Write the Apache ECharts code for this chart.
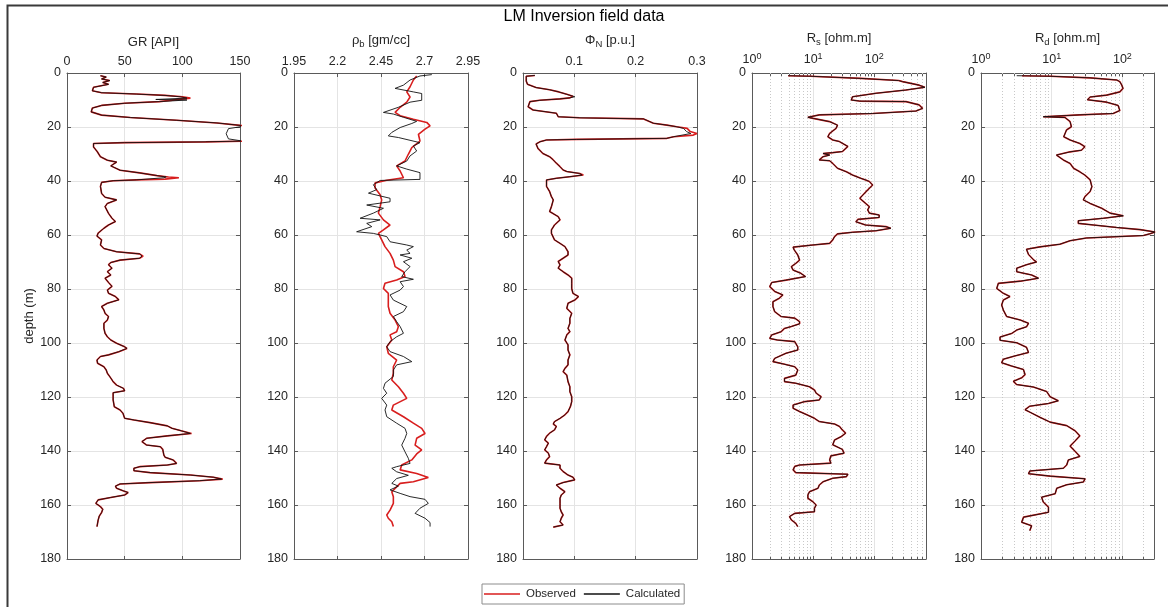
<!DOCTYPE html>
<html><head><meta charset="utf-8">
<script src="https://cdn.jsdelivr.net/npm/echarts@6/dist/echarts.min.js"></script>
<style>html,body{margin:0;padding:0;background:#fff}#c{width:1168px;height:607px}</style>
</head><body><div id="c"></div>
<script>
// ---------- tick labels ----------
const depthTicks = [0, 20, 40, 60, 80, 100, 120, 140, 160, 180];
const grTicks = [0, 50, 100, 150];
const rhoTicks = [1.95, 2.2, 2.45, 2.7, 2.95];
const phiTicks = [0.1, 0.2, 0.3];
const resTicks = [1, 10, 100];
const rsMinor = [2,3,4,5,6,7,8,9,20,30,40,50,60,70,80,90,200,300,400,500,600];
const rdMinor = [2,3,4,5,6,7,8,9,20,30,40,50,60,70,80,90,200];
const legendNames = ['Observed', 'Calculated'];

// ---------- data: [depth (m), value] ----------
const grObserved = [[1,29],[1.5,34],[2.2,30],[2.8,37],[3.5,31],[4.2,36],[5.3,23],[6.6,22],[7.3,30],[7.8,60],[8.3,85],[8.8,100],[9.3,107],[10,106],[10.6,80],[11.2,50],[12,30],[13,22],[14.4,21],[15,21],[15.6,30],[16.5,55],[17.5,95],[18.5,130],[19.4,150],[19.8,160],[25.2,160],[25.5,120],[25.8,50],[26.1,23],[27.4,23],[29,26],[31,29],[32.3,35],[33,43],[34.4,38],[36,46],[37,63],[38,78],[38.5,88],[38.8,97],[39.3,85],[39.6,60],[39.9,40],[40.5,30],[42,29],[44.6,30],[46,33],[47,43],[48.3,35],[49.5,33],[52,36],[53.8,39],[55,42],[56.3,36],[57.5,32],[59.3,27],[60.4,26],[61.8,30],[63.7,29],[65,32],[66.2,43],[67,63],[67.8,66],[68.6,63],[69.3,46],[70.2,38],[71,36],[72.3,39],[73.6,35],[74.8,38],[76,33],[77.6,36],[79,39],[80.4,35],[81.6,36],[82.8,42],[84,45],[85.3,35],[86.5,30],[87.8,32],[89,33],[90.2,36],[91.5,35],[92.7,32],[94.6,32],[96.4,33],[97.7,35],[98.9,38],[100.1,43],[101.4,50],[102,52],[103.2,45],[104.4,36],[105,29],[106.3,26],[107.5,26.5],[108.8,32],[110,34],[111.2,35],[113,38],[114.3,40],[115.6,43],[116.8,49],[117.7,50],[118.4,40],[119.9,40],[121.1,40],[123.6,41],[124.8,46],[126,48.5],[127.9,50],[128.5,58],[129.5,72],[130.7,87],[131.6,91],[132.5,99],[133.5,108],[134.4,87],[135.3,69],[136.5,65],[137.8,69],[138.4,81],[139.4,83],[141.5,84],[142.3,85],[143.3,92],[144.6,95],[145.2,87],[145.8,63],[146.4,58],[147.3,58],[148,72],[148.9,107],[149.7,127],[150.4,135],[151,115],[151.7,72],[152.2,46],[153,42],[153.8,43],[154.7,48.5],[155.4,53],[156.3,50],[157.2,38],[158.1,27],[159.4,25],[160.6,29],[161.6,31],[162.8,30],[164.1,28],[165.6,27],[168,26]];
const grCalculated = [[1,29],[1.5,34],[2.2,30],[2.8,37],[3.5,31],[4.2,36],[5.3,23],[6.6,22],[7.3,30],[7.8,60],[8.3,85],[8.8,98],[9.3,104],[9.8,77],[10,104],[10.6,80],[11.2,50],[12,30],[13,22],[14.4,21],[15,21],[15.6,30],[16.5,55],[17.5,95],[18.5,130],[19.4,150],[19.8,152],[20.6,140],[22.5,138],[24.4,140],[25.2,152],[25.5,120],[25.8,50],[26.1,23],[27.4,23],[29,26],[31,29],[32.3,35],[33,43],[34.4,38],[36,46],[37,63],[38,78],[38.5,86],[38.8,84],[39.3,85],[39.6,60],[39.9,40],[40.5,30],[42,29],[44.6,30],[46,33],[47,43],[48.3,35],[49.5,33],[52,36],[53.8,39],[55,42],[56.3,36],[57.5,32],[59.3,27],[60.4,26],[61.8,30],[63.7,29],[65,32],[66.2,43],[67,63],[67.8,65],[68.6,63],[69.3,46],[70.2,38],[71,36],[72.3,39],[73.6,35],[74.8,38],[76,33],[77.6,36],[79,39],[80.4,35],[81.6,36],[82.8,42],[84,45],[85.3,35],[86.5,30],[87.8,32],[89,33],[90.2,36],[91.5,35],[92.7,32],[94.6,32],[96.4,33],[97.7,35],[98.9,38],[100.1,43],[101.4,50],[102,52],[103.2,45],[104.4,36],[105,29],[106.3,26],[107.5,26.5],[108.8,32],[110,34],[111.2,35],[113,38],[114.3,40],[115.6,43],[116.8,49],[117.7,50],[118.4,40],[119.9,40],[121.1,40],[123.6,41],[124.8,46],[126,48.5],[127.9,50],[128.5,58],[129.5,72],[130.7,87],[131.6,91],[132.5,99],[133.5,107],[134.4,87],[135.3,69],[136.5,65],[137.8,69],[138.4,81],[139.4,83],[141.5,84],[142.3,85],[143.3,92],[144.6,95],[145.2,87],[145.8,63],[146.4,58],[147.3,58],[148,72],[148.9,107],[149.7,127],[150.4,134],[151,115],[151.7,72],[152.2,46],[153,42],[153.8,43],[154.7,48.5],[155.4,53],[156.3,50],[157.2,38],[158.1,27],[159.4,25],[160.6,29],[161.6,31],[162.8,30],[164.1,28],[165.6,27],[168,26]];

const rhoObserved = [[1.1,2.655],[2.6,2.636],[5.1,2.617],[7,2.598],[8.9,2.617],[10.8,2.598],[12.7,2.56],[14.6,2.531],[15.8,2.56],[17.1,2.636],[18.3,2.713],[19.6,2.732],[20.8,2.703],[22.7,2.665],[25.2,2.674],[27.6,2.627],[30.1,2.607],[32.6,2.588],[34.4,2.54],[36.3,2.56],[38.8,2.579],[39.7,2.483],[40.7,2.416],[42.6,2.416],[45.1,2.445],[47,2.454],[49.5,2.445],[51.9,2.435],[54.4,2.464],[56.3,2.502],[58.1,2.464],[59.4,2.435],[61.8,2.454],[64.3,2.473],[66.8,2.502],[69.3,2.521],[71.7,2.531],[73.6,2.579],[75.4,2.588],[76.7,2.54],[77.9,2.473],[79.8,2.464],[81.6,2.492],[84.1,2.492],[86.5,2.492],[89,2.502],[91.5,2.531],[93.9,2.55],[95.8,2.54],[97,2.502],[98.9,2.512],[101.4,2.483],[103.8,2.492],[106.3,2.54],[108.8,2.521],[111.2,2.521],[113.7,2.512],[116.2,2.55],[118.6,2.579],[120.5,2.598],[121.1,2.588],[123,2.521],[124.8,2.512],[127.3,2.579],[129.7,2.636],[131.6,2.684],[133.5,2.703],[135.3,2.655],[137.8,2.646],[139.6,2.684],[141.1,2.655],[143.3,2.627],[145.2,2.569],[147,2.56],[148.3,2.655],[149.8,2.722],[151.4,2.636],[152,2.56],[153.3,2.54],[155.1,2.512],[156.9,2.521],[159.4,2.521],[161.9,2.502],[163.7,2.483],[164.9,2.492],[166.2,2.512],[168,2.521]];
const rhoCalculated = [[0.6,2.742],[1.1,2.674],[2.6,2.617],[4.5,2.579],[5.7,2.531],[7,2.636],[7.6,2.684],[10.1,2.684],[10.8,2.617],[12.7,2.55],[14.6,2.464],[15.2,2.521],[16.4,2.579],[17.9,2.655],[18.7,2.627],[20.2,2.56],[22,2.512],[23.3,2.492],[23.9,2.55],[25.8,2.674],[27,2.636],[28.9,2.655],[30.7,2.617],[32.6,2.598],[34.4,2.54],[35.6,2.598],[36.9,2.674],[39.4,2.674],[39.8,2.445],[41.4,2.406],[43.2,2.425],[44.5,2.378],[46.4,2.502],[47.7,2.502],[48.9,2.368],[50.1,2.464],[51.9,2.406],[53.8,2.33],[54.4,2.445],[55.7,2.368],[56.9,2.397],[58.8,2.31],[59.4,2.406],[60.6,2.483],[62.5,2.502],[63.7,2.598],[64.3,2.636],[65.6,2.598],[66.8,2.617],[67.4,2.56],[68.6,2.627],[69.9,2.579],[71.7,2.617],[73.6,2.588],[75.4,2.569],[76.4,2.636],[77.3,2.56],[79.1,2.579],[80.4,2.56],[82.2,2.502],[84.1,2.521],[86.5,2.598],[88.4,2.579],[90.2,2.521],[92.1,2.54],[93.9,2.56],[96.4,2.579],[97.7,2.54],[99.5,2.502],[101.4,2.483],[103.2,2.502],[105,2.579],[106.9,2.627],[108.1,2.54],[110,2.521],[112.4,2.521],[114.9,2.473],[116.8,2.464],[118.6,2.483],[120.5,2.454],[121.1,2.464],[123,2.483],[124.8,2.473],[127.3,2.483],[129.7,2.54],[131.6,2.588],[133.5,2.598],[135.3,2.588],[137.8,2.569],[140.3,2.588],[142.7,2.607],[144.6,2.617],[145.8,2.54],[146.4,2.512],[147.7,2.54],[149,2.607],[150.2,2.54],[152,2.512],[153,2.55],[154.4,2.502],[155.7,2.56],[156.9,2.617],[157.9,2.703],[159.4,2.722],[161.2,2.674],[163.1,2.646],[164.9,2.703],[166.5,2.732],[168,2.732]];

const phiObserved = [[0.9,0.036],[1.2,0.022],[2,0.022],[3,0.022],[4.2,0.024],[5.4,0.038],[6.2,0.06],[7,0.075],[7.9,0.088],[8.6,0.098],[9.2,0.093],[9.6,0.077],[10.1,0.044],[10.6,0.028],[12.5,0.025],[13.7,0.033],[14.9,0.071],[16.2,0.074],[16.6,0.109],[17,0.213],[18.6,0.229],[19.3,0.251],[19.9,0.267],[20.5,0.284],[21.7,0.289],[22.4,0.3],[23,0.294],[23.6,0.262],[24.2,0.251],[24.6,0.104],[24.8,0.055],[25.5,0.044],[26.3,0.038],[27.9,0.041],[29.8,0.049],[31,0.06],[32.2,0.066],[33.4,0.071],[34.7,0.077],[35.9,0.082],[36.5,0.088],[37.2,0.109],[37.8,0.115],[38.4,0.093],[39,0.071],[39.6,0.055],[42,0.055],[43.9,0.06],[45.8,0.063],[47,0.066],[49.5,0.063],[51.3,0.06],[53.2,0.074],[54.4,0.077],[56.3,0.068],[58.1,0.063],[59.4,0.063],[61.8,0.068],[63.1,0.077],[64.3,0.085],[66.2,0.09],[67.4,0.09],[68.6,0.082],[69.8,0.074],[71.1,0.077],[72.3,0.074],[73.6,0.082],[74.8,0.09],[76,0.096],[77.9,0.096],[79.8,0.096],[81.6,0.098],[82.8,0.107],[84.1,0.101],[85.3,0.09],[87.2,0.088],[89,0.096],[90.9,0.093],[92.7,0.093],[94.6,0.09],[95.8,0.093],[97,0.088],[98.9,0.085],[100.7,0.09],[102.6,0.09],[104.4,0.093],[106.3,0.09],[108.1,0.09],[109.4,0.085],[110.6,0.082],[111.9,0.088],[114.3,0.09],[116.2,0.093],[118,0.093],[119.9,0.096],[121.7,0.096],[123.5,0.094],[125.4,0.09],[126.6,0.085],[127.9,0.077],[129.1,0.068],[130,0.066],[130.9,0.071],[132.2,0.068],[133.4,0.06],[134.6,0.055],[135.9,0.052],[137.1,0.058],[138.4,0.055],[139.6,0.052],[140.8,0.058],[142.1,0.06],[143.3,0.055],[144.5,0.052],[145.2,0.077],[146.4,0.077],[147.6,0.082],[148.9,0.09],[149.7,0.098],[150.7,0.101],[151.7,0.082],[152.6,0.071],[153.8,0.077],[155.1,0.085],[156.3,0.079],[157.5,0.077],[159.4,0.077],[161.2,0.077],[162.5,0.079],[163.7,0.082],[164.9,0.079],[166.2,0.077],[167.4,0.082],[168.2,0.066]];
const phiCalculated = [[0.9,0.036],[1.2,0.022],[2,0.022],[3,0.022],[4.2,0.024],[5.4,0.038],[6.2,0.06],[7,0.075],[7.9,0.088],[8.8,0.101],[9.2,0.093],[9.6,0.077],[10.1,0.044],[10.6,0.028],[12.5,0.025],[13.7,0.033],[14.9,0.071],[16.2,0.074],[16.6,0.109],[17,0.213],[18.6,0.229],[19.3,0.251],[19.9,0.267],[20.5,0.278],[21.7,0.283],[22.4,0.29],[23,0.288],[23.6,0.262],[24.2,0.251],[24.6,0.104],[24.8,0.055],[25.5,0.044],[26.3,0.038],[27.9,0.041],[29.8,0.049],[31,0.06],[32.2,0.066],[33.4,0.071],[34.7,0.077],[35.9,0.082],[36.5,0.088],[37.2,0.109],[37.8,0.113],[38.4,0.093],[39,0.071],[39.6,0.055],[42,0.055],[43.9,0.06],[45.8,0.063],[47,0.066],[49.5,0.063],[51.3,0.06],[53.2,0.074],[54.4,0.077],[56.3,0.068],[58.1,0.063],[59.4,0.063],[61.8,0.068],[63.1,0.077],[64.3,0.085],[66.2,0.09],[67.4,0.09],[68.6,0.082],[69.8,0.074],[71.1,0.077],[72.3,0.074],[73.6,0.082],[74.8,0.09],[76,0.096],[77.9,0.096],[79.8,0.096],[81.6,0.098],[82.8,0.107],[84.1,0.101],[85.3,0.09],[87.2,0.088],[89,0.096],[90.9,0.093],[92.7,0.093],[94.6,0.09],[95.8,0.093],[97,0.088],[98.9,0.085],[100.7,0.09],[102.6,0.09],[104.4,0.093],[106.3,0.09],[108.1,0.09],[109.4,0.085],[110.6,0.082],[111.9,0.088],[114.3,0.09],[116.2,0.093],[118,0.093],[119.9,0.096],[121.7,0.096],[123.5,0.094],[125.4,0.09],[126.6,0.085],[127.9,0.077],[129.1,0.068],[130,0.066],[130.9,0.071],[132.2,0.068],[133.4,0.06],[134.6,0.055],[135.9,0.052],[137.1,0.058],[138.4,0.055],[139.6,0.052],[140.8,0.058],[142.1,0.06],[143.3,0.055],[144.5,0.052],[145.2,0.077],[146.4,0.077],[147.6,0.082],[148.9,0.09],[149.7,0.098],[150.7,0.101],[151.7,0.082],[152.6,0.071],[153.8,0.077],[155.1,0.085],[156.3,0.079],[157.5,0.077],[159.4,0.077],[161.2,0.077],[162.5,0.079],[163.7,0.082],[164.9,0.079],[166.2,0.077],[167.4,0.082],[168.2,0.066]];

const rsObserved = [[1,3.9],[1.2,9],[2,60],[2.8,250],[3.2,290],[4.5,540],[5.3,670],[6.3,330],[7.5,107],[8.8,44],[10,42],[10.4,57],[10.6,330],[11.8,540],[13.1,615],[14.1,480],[15,94],[15.5,12.7],[16.4,8.2],[16.8,10],[18,18.5],[19.3,25],[20.5,23.7],[22.4,18.6],[23.6,17.4],[24.8,20.9],[25.4,26.9],[27.2,37],[29.1,30],[29.5,20.9],[29.8,14.5],[30.4,18.6],[31,14.5],[32.2,12.6],[32.5,18.6],[33.5,20.9],[35.3,25],[36.6,35],[37.8,44],[39,60],[39.6,72],[40.2,83],[41.5,94],[43.3,78],[45.2,65],[46.4,58],[47,58],[48.3,72],[49.5,83],[50.7,78],[51.9,83],[52.6,120],[53.5,120],[54.2,54],[55.1,50],[56.3,72],[56.9,155],[57.5,186],[58.4,107],[59,44],[59.6,25],[60.6,22.4],[61.8,20.9],[63.1,18.6],[63.7,9.9],[64.5,4.7],[65.5,4.9],[67.4,5.6],[69.3,6],[70.5,5.2],[71.7,4.4],[73,4.7],[74.2,6.3],[75.4,7.5],[76.7,3.6],[77.6,2.1],[79.1,1.95],[80.9,2.35],[82.2,3.2],[83.4,2.8],[84.7,2.2],[86.5,2.2],[88.4,2.35],[90.2,3],[90.8,5],[92.1,6],[92.9,6],[93.9,4.4],[94.6,3.4],[95.8,3],[97,2.1],[98.3,1.95],[98.9,2.6],[99.5,5],[101.4,5.6],[102.6,5.6],[103.8,3.6],[105.7,2.35],[106.9,2.2],[107.8,3.3],[108.8,5],[110,5.6],[111.9,5.2],[113.1,3.4],[114.3,3.4],[114.9,5.2],[116.2,8.7],[117.4,10.5],[118.6,11.2],[119.9,13.5],[121.1,12.6],[121.7,7.3],[123,4.7],[124.2,4.7],[125.4,6],[126.6,7.9],[127.9,10.5],[129.1,12.6],[130,22.4],[130.9,27],[132.2,30],[133.4,34],[134.6,29],[135.9,22.4],[137.7,20.9],[139.4,30],[140.8,32],[141.8,19.5],[143.3,18.6],[144.5,19.5],[145.2,6],[145.7,5],[147,4.7],[148,5.2],[148.6,37],[149.5,35],[150.1,20.9],[151.4,14.5],[152.6,12.6],[153.8,12],[155.1,8.7],[156.3,8.2],[157.5,8.2],[158.8,9.9],[160,11.2],[161.2,10.5],[162.5,10.5],[163.1,5],[164.3,4.1],[165.5,4.4],[166.8,5.2],[168,5.6]];
const rsCalculated = [[1,3.9],[1.2,9],[2,60],[2.8,250],[3.2,290],[4.5,540],[5.3,670],[6.3,330],[7.5,107],[8.8,44],[10,42],[10.4,57],[10.6,330],[11.8,540],[13.1,615],[14.1,480],[15,94],[15.5,12.7],[16.4,8.2],[16.8,10],[18,18.5],[19.3,25],[20.5,23.7],[22.4,18.6],[23.6,17.4],[24.8,20.9],[25.4,26.9],[27.2,37],[29.1,30],[29.5,20.9],[29.8,14.5],[30.4,18.6],[31,14.5],[32.2,12.6],[32.5,18.6],[33.5,20.9],[35.3,25],[36.6,35],[37.8,44],[39,60],[39.6,72],[40.2,83],[41.5,94],[43.3,78],[45.2,65],[46.4,58],[47,58],[48.3,72],[49.5,83],[50.7,78],[51.9,83],[52.6,120],[53.5,120],[54.2,54],[55.1,50],[56.3,72],[56.9,155],[57.5,186],[58.4,107],[59,44],[59.6,25],[60.6,22.4],[61.8,20.9],[63.1,18.6],[63.7,9.9],[64.5,4.7],[65.5,4.9],[67.4,5.6],[69.3,6],[70.5,5.2],[71.7,4.4],[73,4.7],[74.2,6.3],[75.4,7.5],[76.7,3.6],[77.6,2.1],[79.1,1.95],[80.9,2.35],[82.2,3.2],[83.4,2.8],[84.7,2.2],[86.5,2.2],[88.4,2.35],[90.2,3],[90.8,5],[92.1,6],[92.9,6],[93.9,4.4],[94.6,3.4],[95.8,3],[97,2.1],[98.3,1.95],[98.9,2.6],[99.5,5],[101.4,5.6],[102.6,5.6],[103.8,3.6],[105.7,2.35],[106.9,2.2],[107.8,3.3],[108.8,5],[110,5.6],[111.9,5.2],[113.1,3.4],[114.3,3.4],[114.9,5.2],[116.2,8.7],[117.4,10.5],[118.6,11.2],[119.9,13.5],[121.1,12.6],[121.7,7.3],[123,4.7],[124.2,4.7],[125.4,6],[126.6,7.9],[127.9,10.5],[129.1,12.6],[130,22.4],[130.9,27],[132.2,30],[133.4,34],[134.6,29],[135.9,22.4],[137.7,20.9],[139.4,30],[140.8,32],[141.8,19.5],[143.3,18.6],[144.5,19.5],[145.2,6],[145.7,5],[147,4.7],[148,5.2],[148.6,37],[149.5,35],[150.1,20.9],[151.4,14.5],[152.6,12.6],[153.8,12],[155.1,8.7],[156.3,8.2],[157.5,8.2],[158.8,9.9],[160,11.2],[161.2,10.5],[162.5,10.5],[163.1,5],[164.3,4.1],[165.5,4.4],[166.8,5.2],[168,5.6]];

const rdObserved = [[1,3.8],[1.2,9.5],[1.8,35],[2.6,83],[3.2,92],[4.5,98],[5.7,102],[7,92],[8.2,60],[8.9,35],[9.9,32],[10.8,60],[12,87],[13.9,92],[15,74],[15.5,25],[16.2,7.6],[16.5,15.5],[18,18.2],[19.9,19],[21.1,16.2],[23.6,14.8],[24.8,18.2],[26.1,25],[27.3,29.5],[28.6,26.3],[29.2,18.2],[30.4,11.7],[31,11.2],[32.2,14.6],[33.5,18.2],[35.3,20.4],[36.6,25],[37.8,29.5],[39.6,35],[42.1,37],[43.9,35],[45.8,29.5],[47,28],[48.3,35],[50.1,51],[51.9,67],[52.9,103],[53.8,54],[54.7,23.8],[55.7,23.8],[56.3,39],[57.2,83],[58,178],[58.9,290],[59.5,247],[60.2,198],[61.1,31],[62.1,18.2],[63.4,13.1],[64.4,6.8],[65.3,4.4],[67.2,4.7],[69.1,5.5],[70,6.1],[71,4.4],[72.3,3.2],[73.6,3.2],[74.8,5.2],[76,6.5],[77.1,3.6],[77.9,1.76],[79.8,1.67],[81.6,2.07],[82.8,2.57],[84.1,2.07],[85.9,1.96],[87.8,2.07],[90.2,2.31],[91.5,3.6],[92.7,4.7],[94,4.4],[95.2,3.2],[96.5,2.7],[97.8,1.86],[99,1.86],[99.9,3.2],[101.6,4.4],[103.5,4.7],[104.8,3],[106,2.07],[107.3,1.96],[108.5,2.7],[109.8,3.98],[111.7,4.2],[112.9,3.76],[114.2,2.87],[115.4,3.2],[116.3,5.5],[118,8.5],[119.9,9.5],[121.4,12.4],[122.4,9],[123.4,4.9],[124.7,4.2],[125.6,4.9],[127.5,6.8],[129.3,9.5],[130.6,16.3],[132.5,21.4],[134.4,25],[136.3,21.4],[138.2,18.2],[140.1,21.4],[142,25],[143.3,17.2],[145.2,16.3],[146.4,14.6],[147.4,4.9],[148.4,4.7],[149.3,9.5],[150.3,29.7],[151.5,28],[152.5,16.3],[153.8,11.8],[155.8,11.2],[157.1,7.2],[158.9,7.6],[160.8,9],[162.7,9],[164.5,4],[166.4,3.76],[167.7,5.2],[169.5,4.9]];
const rdCalculated = [[1,3.2],[1.2,9.5],[1.8,35],[2.6,83],[3.2,92],[4.5,98],[5.7,102],[7,92],[8.2,60],[8.9,35],[9.9,32],[10.8,60],[12,87],[13.9,92],[15,74],[15.5,25],[16.2,7.6],[16.5,15.5],[18,18.2],[19.9,19],[21.1,16.2],[23.6,14.8],[24.8,18.2],[26.1,25],[27.3,29.5],[28.6,26.3],[29.2,18.2],[30.4,11.7],[31,11.2],[32.2,14.6],[33.5,18.2],[35.3,20.4],[36.6,25],[37.8,29.5],[39.6,35],[42.1,37],[43.9,35],[45.8,29.5],[47,28],[48.3,35],[50.1,51],[51.9,67],[52.9,103],[53.8,54],[54.7,23.8],[55.7,23.8],[56.3,39],[57.2,83],[58,178],[58.9,290],[59.5,247],[60.2,198],[61.1,31],[62.1,18.2],[63.4,13.1],[64.4,6.8],[65.3,4.4],[67.2,4.7],[69.1,5.5],[70,6.1],[71,4.4],[72.3,3.2],[73.6,3.2],[74.8,5.2],[76,6.5],[77.1,3.6],[77.9,1.76],[79.8,1.67],[81.6,2.07],[82.8,2.57],[84.1,2.07],[85.9,1.96],[87.8,2.07],[90.2,2.31],[91.5,3.6],[92.7,4.7],[94,4.4],[95.2,3.2],[96.5,2.7],[97.8,1.86],[99,1.86],[99.9,3.2],[101.6,4.4],[103.5,4.7],[104.8,3],[106,2.07],[107.3,1.96],[108.5,2.7],[109.8,3.98],[111.7,4.2],[112.9,3.76],[114.2,2.87],[115.4,3.2],[116.3,5.5],[118,8.5],[119.9,9.5],[121.4,12.4],[122.4,9],[123.4,4.9],[124.7,4.2],[125.6,4.9],[127.5,6.8],[129.3,9.5],[130.6,16.3],[132.5,21.4],[134.4,25],[136.3,21.4],[138.2,18.2],[140.1,21.4],[142,25],[143.3,17.2],[145.2,16.3],[146.4,14.6],[147.4,4.9],[148.4,4.7],[149.3,9.5],[150.3,29.7],[151.5,28],[152.5,16.3],[153.8,11.8],[155.8,11.2],[157.1,7.2],[158.9,7.6],[160.8,9],[162.7,9],[164.5,4],[166.4,3.76],[167.7,5.2],[169.5,4.9]];

// ---------- chart ----------
const FONT = "'Liberation Sans', Arial, Helvetica, sans-serif";
const TXT = '#262626';
const AX = '#5a5a5a';
const GRIDC = '#e4e4e4';

const panels = [
  {left: 67,  width: 173, type: 'value', min: 0,      max: 150,  ticks: grTicks,  name: 'GR [API]',          obs: grObserved,  cal: grCalculated},
  {left: 294, width: 174, type: 'value', min: 1.95,   max: 2.95, ticks: rhoTicks, name: 'ρ{sub|b} [gm/cc]',  obs: rhoObserved, cal: rhoCalculated},
  {left: 523, width: 174, type: 'value', min: 0.0167, max: 0.3,  ticks: phiTicks, name: 'Φ{sub|N} [p.u.]',   obs: phiObserved, cal: phiCalculated},
  {left: 752, width: 174, type: 'log',   min: 1,      max: 700,  ticks: resTicks, minor: rsMinor, name: 'R{sub|s} [ohm.m]', obs: rsObserved, cal: rsCalculated},
  {left: 981, width: 173, type: 'log',   min: 1,      max: 280,  ticks: resTicks, minor: rdMinor, name: 'R{sub|d} [ohm.m]', obs: rdObserved, cal: rdCalculated}
];

const grids = [], xAxes = [], yAxes = [], series = [];
panels.forEach((p, i) => {
  grids.push({left: p.left, top: 73, width: p.width, height: 486, containLabel: false});
  const isLog = p.type === 'log';
  const labelFmt = isLog ? (v => '10{sup|' + Math.round(Math.log10(v)) + '}') : (v => String(v));
  const allTicks = isLog ? p.ticks.concat(p.minor).sort((a, b) => a - b) : p.ticks;
  const xBase = xAxes.length;
  // top axis with labels
  xAxes.push({
    gridIndex: i, type: p.type, position: 'top', min: p.min, max: p.max,
    name: p.name, nameLocation: 'middle', nameGap: 24,
    nameTextStyle: {fontFamily: FONT, fontSize: 13, color: TXT,
      rich: {sub: {fontFamily: FONT, fontSize: 9.5, color: TXT, padding: [8, 0, 0, 0]}}},
    axisLine: {show: true, onZero: false, lineStyle: {color: AX, width: 1}},
    axisTick: {show: true, inside: true, length: 4, customValues: p.ticks, lineStyle: {color: AX}},
    axisLabel: {show: true, margin: 5, customValues: p.ticks, formatter: labelFmt,
      fontFamily: FONT, fontSize: 12.5, color: TXT,
      rich: {sup: {fontFamily: FONT, fontSize: 9, color: TXT, padding: [0, 0, 7, 0]}}},
    splitLine: {show: true, lineStyle: {color: GRIDC, width: 1}},
    minorTick: {show: false}, minorSplitLine: {show: false}
  });
  // bottom mirror axis (ticks only)
  xAxes.push({
    gridIndex: i, type: p.type, position: 'bottom', min: p.min, max: p.max,
    axisLine: {show: true, onZero: false, lineStyle: {color: AX, width: 1}},
    axisTick: {show: true, inside: true, length: 3, customValues: allTicks, lineStyle: {color: AX}},
    axisLabel: {show: false}, splitLine: {show: false}
  });
  if (isLog) {
    // top minor ticks
    xAxes.push({
      gridIndex: i, type: p.type, position: 'top', offset: 0, min: p.min, max: p.max,
      axisLine: {show: false},
      axisTick: {show: true, inside: true, length: 3, customValues: p.minor, lineStyle: {color: AX}},
      axisLabel: {show: false}, splitLine: {show: false}
    });
  }
  yAxes.push({
    gridIndex: i, type: 'value', inverse: true, min: 0, max: 180, interval: 20, position: 'left',
    name: i === 0 ? 'depth (m)' : '', nameLocation: 'middle', nameGap: 31,
    nameTextStyle: {fontFamily: FONT, fontSize: 13, color: TXT},
    axisLine: {show: true, onZero: false, lineStyle: {color: AX, width: 1}},
    axisTick: {show: true, inside: true, length: 4, lineStyle: {color: AX}},
    axisLabel: {show: true, margin: 6, fontFamily: FONT, fontSize: 12.5, color: TXT,
      customValues: depthTicks, formatter: v => String(v)},
    splitLine: {show: true, lineStyle: {color: GRIDC, width: 1}}
  });
  yAxes.push({
    gridIndex: i, type: 'value', inverse: true, min: 0, max: 180, interval: 20, position: 'right',
    axisLine: {show: true, onZero: false, lineStyle: {color: AX, width: 1}},
    axisTick: {show: true, inside: true, length: 4, lineStyle: {color: AX}},
    axisLabel: {show: false}, splitLine: {show: false}
  });
  const obsSeries = {
    name: legendNames[0], type: 'line', xAxisIndex: xBase, yAxisIndex: 2 * i,
    data: p.obs.map(d => [d[1], d[0]]), showSymbol: false, symbol: 'none',
    clip: true, animation: false, z: 3,
    lineStyle: {color: '#d81e1e', width: 1.6}, itemStyle: {color: '#d81e1e'}
  };
  if (isLog) {
    obsSeries.markLine = {
      silent: true, symbol: ['none', 'none'], z: 1, animation: false,
      label: {show: false},
      lineStyle: {type: [1, 2], color: '#c8c8c8', width: 1},
      emphasis: {disabled: true},
      data: p.minor.map(v => ({xAxis: v}))
    };
  }
  series.push(obsSeries);
  series.push({
    name: legendNames[1], type: 'line', xAxisIndex: xBase, yAxisIndex: 2 * i,
    data: p.cal.map(d => [d[1], d[0]]), showSymbol: false, symbol: 'none',
    clip: true, animation: false, z: 4,
    lineStyle: {color: '#111111', width: 0.9}, itemStyle: {color: '#111111'}
  });
});

const option = {
  backgroundColor: '#ffffff',
  animation: false,
  textStyle: {fontFamily: FONT},
  title: {
    text: 'LM Inversion field data', left: 'center', top: 4,
    textStyle: {fontFamily: FONT, fontSize: 16, fontWeight: 'normal', color: '#000'}
  },
  legend: {
    data: legendNames, left: 482, top: 584, orient: 'horizontal',
    icon: 'rect', itemWidth: 36, itemHeight: 1.3, itemGap: 8,
    padding: [4, 4, 4, 2], borderColor: '#8c8c8c', borderWidth: 1, backgroundColor: '#fff',
    textStyle: {fontFamily: FONT, fontSize: 11.5, color: TXT, padding: [0, 0, 0, 1]}
  },
  graphic: [{
    type: 'rect', silent: true, z: 100,
    shape: {x: 7.5, y: 5.5, width: 1300, height: 800},
    style: {fill: 'none', stroke: '#3a3a3a', lineWidth: 2}
  }],
  grid: grids, xAxis: xAxes, yAxis: yAxes, series: series
};

const chart = echarts.init(document.getElementById('c'), null, {renderer: 'canvas'});
chart.setOption(option);
</script>
</body></html>
